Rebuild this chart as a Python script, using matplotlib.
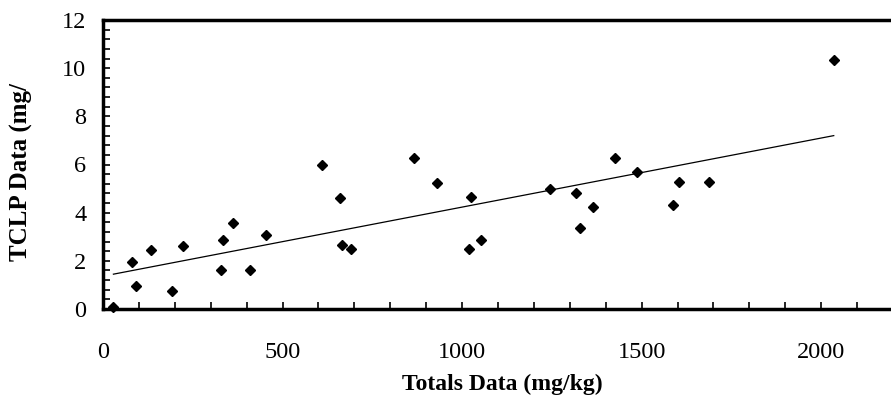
import matplotlib.pyplot as plt
import numpy as np
from matplotlib.ticker import MultipleLocator

# data
totals = [29, 82, 91, 134, 191, 223, 329, 335, 361, 409, 455, 609, 661, 666, 692,
          867, 930, 1019, 1024, 1054, 1244, 1318, 1329, 1365, 1425, 1488, 1587,
          1604, 1688, 2035]
tclp = [0.1, 1.96, 0.97, 2.45, 0.75, 2.6, 1.62, 2.86, 3.58, 1.62, 3.08, 5.98, 4.59,
        2.66, 2.49, 6.28, 5.22, 2.48, 4.66, 2.88, 4.97, 4.80, 3.35, 4.23, 6.27, 5.67,
        4.32, 5.26, 5.26, 10.33]
x_ticks = [0, 500, 1000, 1500, 2000]
y_ticks = [0, 2, 4, 6, 8, 10, 12]

plt.rcParams['font.family'] = 'Liberation Serif'

fig = plt.figure(figsize=(8.91, 4), dpi=100)
ax = fig.add_axes([103 / 891, 91 / 400, 790 / 891, 289 / 400])

ax.plot(totals, tclp, linestyle='none', marker='D', markersize=5.5,
        color='black', clip_on=False, zorder=3)

# linear trend line across the data range
slope, intercept = np.polyfit(totals, tclp, 1)
xs = np.array([min(totals), max(totals)])
ax.plot(xs, slope * xs + intercept, color='black', linewidth=0.9)

ax.set_xlim(0, 2200)
ax.set_ylim(0, 12)
ax.set_xticks(x_ticks)
ax.set_yticks(y_ticks)
ax.xaxis.set_minor_locator(MultipleLocator(100))
ax.yaxis.set_minor_locator(MultipleLocator(0.4))

ax.tick_params(axis='both', which='both', direction='in', length=5, width=1.2,
               labelsize=17.5)
ax.tick_params(axis='x', which='both', pad=24)
ax.tick_params(axis='y', which='both', pad=12)

for side in ['left', 'bottom', 'top']:
    ax.spines[side].set_linewidth(2.5)
ax.spines['right'].set_visible(False)

ax.set_xlabel('Totals Data (mg/kg)', fontsize=17, fontweight='bold')
ax.xaxis.set_label_coords(0.505, -0.225)
ax.set_ylabel('TCLP Data (mg/', fontsize=18, fontweight='bold')
ax.yaxis.set_label_coords(-0.089, 0.474)

fig.savefig('out.png', dpi=100)
